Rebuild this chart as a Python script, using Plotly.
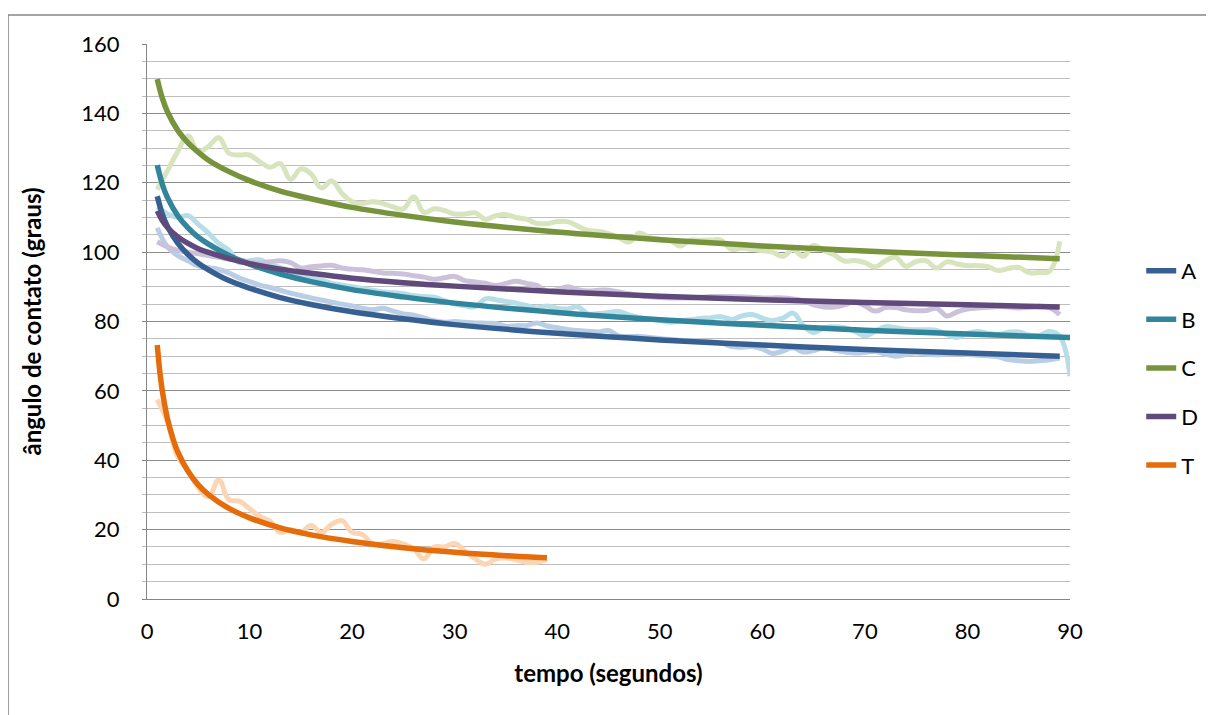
import plotly.graph_objects as go

# ---------------- data ----------------
SERIES = ["A", "B", "C", "D", "T"]

SEC_A = list(range(1, 90))
RAW_A = [107, 101.5, 99, 97.5, 96, 95.5, 95, 94, 92.5, 91.5, 90.5, 89.8, 89, 88.2, 87.5, 86.8, 86.2, 85.6, 85, 84.5,
         83.8, 83.4, 83.8, 83, 82.2, 81.8, 81, 80.2, 79.8, 80, 79.8, 79.6, 79.5, 79.4, 78.6, 78.8, 78.8, 79.6, 78.7, 78.2,
         77.7, 77.4, 77.2, 77, 77.4, 75.8, 75.7, 75.7, 75.4, 75.1, 74.8, 74.6, 74.5, 74.3, 74.1, 73.8, 72.8, 72.6, 72.8, 72.1,
         70.8, 71.5, 72.4, 71.2, 71.6, 72.4, 71.8, 71.3, 70.9, 71.1, 71.4, 70.6, 70, 70.5, 70.9, 70.6, 70.4, 70.7, 70.8, 70.5,
         70.3, 70.1, 69.8, 69, 68.7, 68.5, 68.7, 69, 69.5]

SEC_B = list(range(1, 91))
RAW_B = [113, 111, 110, 110.5, 108, 105.5, 102.5, 100.5, 97, 97.5, 97.8, 96.5, 95.5, 94.5, 93.5, 92.5, 92, 91, 90.5, 90,
         89.5, 89, 88.5, 88.3, 88, 87.5, 87.2, 87, 86, 85, 84.5, 84.3, 86.5, 86.3, 85.8, 85.3, 84.6, 83.9, 84.5, 83.8,
         83.6, 84.2, 82.2, 82.3, 82.6, 82.9, 81.9, 81.2, 80.7, 80.3, 79.8, 80.2, 80.5, 80.9, 81.1, 81.4, 80.6, 81.6, 82, 81,
         80.3, 81, 82.4, 78.8, 76.8, 78.2, 78.5, 78.2, 77.2, 75.9, 77.2, 78.5, 78.2, 77.8, 77.6, 77.6, 77.4, 76.2, 75.4, 76.6,
         77.1, 76.6, 76.3, 76.9, 77, 76.1, 76, 77.1, 75.7, 64.2]

SEC_C = list(range(1, 90))
RAW_C = [118, 123.5, 129, 133.5, 129, 130.5, 133, 128.5, 128, 128, 126, 124.5, 125.5, 121, 124, 122.5, 118.5, 120.5, 117, 114.5,
         114, 114.5, 114, 113, 112.5, 116, 111.5, 112.5, 112, 111, 111, 111.3, 109.5, 110.5, 110.8, 110, 109.5, 108.3, 108.2, 108.8,
         108.8, 107.5, 106.3, 106, 105.3, 104.2, 102.9, 105.5, 104.2, 103.8, 103.3, 101.8, 103.5, 103.4, 103.5, 103.4, 100.8, 101.2, 100.8, 100.4,
         100, 98.8, 100.7, 98.8, 102, 100.5, 99.2, 97.4, 97.6, 97, 95.7, 97.5, 98.5, 95.9, 97.3, 97.5, 95.4, 97.2, 96.6, 96.1,
         96.1, 95.8, 94.7, 95.3, 95.6, 94.1, 94.1, 94.5, 103.1]

SEC_D = list(range(1, 90))
RAW_D = [103, 101.5, 100.5, 100, 99.5, 99, 98.5, 98, 97.8, 97.2, 96.8, 97.2, 97.5, 97, 95.4, 95.8, 96, 96.2, 95.4, 95.1,
         94.9, 94.5, 94, 93.9, 93.7, 93.2, 92.8, 92.2, 92.6, 93, 91.8, 91.4, 91, 90.4, 91, 91.6, 91, 90.4, 88.8, 89.2,
         90, 89.2, 88.8, 89, 89, 88.5, 88, 87.5, 87.1, 86.9, 86.8, 86.8, 86.8, 87, 87.2, 87.2, 87.2, 87.1, 87, 86.8,
         86.8, 86.8, 86.5, 86, 84.8, 84.2, 84.2, 84.8, 85.6, 84.5, 83, 84, 84, 83.4, 83.1, 83.2, 83.8, 81.6, 82.8, 83.6,
         83.9, 84.1, 84.3, 84.2, 83.9, 84.1, 84.4, 84, 82]

SEC_T = list(range(1, 40))
RAW_T = [57.5, 51, 41, 37, 32, 29.5, 34.3, 28.6, 28.2, 26, 23.8, 22.4, 19.2, 20, 19.3, 21.2, 19.2, 21.5, 22.6, 19.2,
         18.6, 16, 16, 16.6, 15.8, 14.5, 11.6, 15, 15, 16, 13.8, 11.6, 10, 11.6, 11.8, 11.3, 10.6, 10.6, 11.4]

# trend curves
TREND_X = [1, 1.5, 2, 3, 4, 5, 6, 8, 10, 13, 16, 20, 25, 30, 40, 50, 60, 70, 80, 89]
TREND_X_B = [1, 1.5, 2, 3, 4, 5, 6, 8, 10, 13, 16, 20, 25, 30, 40, 50, 60, 70, 80, 90]
TREND_X_T = [1, 1.25, 1.5, 2, 2.5, 3, 4, 5, 6, 8, 10, 13, 16, 20, 25, 30, 35, 39]
TREND_A = [116.1, 110.9, 107.4, 102.6, 99.3, 96.8, 94.9, 91.8, 89.6, 86.9, 84.9, 82.8, 80.8, 79.1, 76.6, 74.7, 73.2, 71.9, 70.9, 70.0]
TREND_B = [125.1, 119.5, 115.7, 110.5, 107.0, 104.3, 102.3, 99.0, 96.5, 93.7, 91.5, 89.2, 87.1, 85.3, 82.6, 80.5, 78.9, 77.5, 76.4, 75.4]
TREND_C = [149.9, 144.3, 140.4, 135.1, 131.5, 128.8, 126.5, 123.2, 120.6, 117.6, 115.4, 112.9, 110.6, 108.7, 105.8, 103.6, 101.8, 100.3, 99.1, 98.1]
TREND_D = [111.9, 109.1, 107.1, 104.4, 102.5, 101.0, 99.9, 98.1, 96.7, 95.1, 93.9, 92.5, 91.2, 90.2, 88.6, 87.3, 86.3, 85.5, 84.8, 84.2]
TREND_T = [73.2, 65.5, 59.9, 51.9, 46.5, 42.4, 36.8, 32.9, 30.1, 26.1, 23.4, 20.5, 18.5, 16.6, 14.8, 13.5, 12.5, 11.9]

X_TICKS = [0, 10, 20, 30, 40, 50, 60, 70, 80, 90]
Y_TICKS = [0, 20, 40, 60, 80, 100, 120, 140, 160]

RAW_COLORS = ["#B9CDE5", "#B7DEE8", "#D7E4BD", "#CCC1DA", "#FCD5B5"]
TREND_COLORS = ["#376092", "#31859C", "#77933C", "#604A7B", "#E46C0A"]

FONT = "Lato, 'Open Sans', Arial, sans-serif"

raw = [(SEC_A, RAW_A), (SEC_B, RAW_B), (SEC_C, RAW_C), (SEC_D, RAW_D), (SEC_T, RAW_T)]
trend = [(TREND_X, TREND_A), (TREND_X_B, TREND_B), (TREND_X, TREND_C), (TREND_X, TREND_D), (TREND_X_T, TREND_T)]

fig = go.Figure()
for i, (xs, ys) in enumerate(raw):
    fig.add_trace(go.Scatter(x=xs, y=ys, mode="lines", showlegend=False, hoverinfo="skip",
                             line=dict(color=RAW_COLORS[i], width=5, shape="spline", smoothing=1.2)))
for i, (xs, ys) in enumerate(trend):
    fig.add_trace(go.Scatter(x=xs, y=ys, mode="lines", name=SERIES[i], legendgroup=SERIES[i],
                             line=dict(color=TREND_COLORS[i], width=5.5, shape="spline", smoothing=1.0)))

# outer chart border
fig.add_shape(type="rect", xref="paper", yref="paper",
              x0=(8 - 147) / 924, x1=(1230 - 147) / 924, y0=(599 - 730) / 555, y1=(599 - 15) / 555,
              line=dict(color="#868686", width=1.3), fillcolor="rgba(0,0,0,0)", layer="below")

fig.update_layout(
    width=1206, height=707,
    margin=dict(l=139, r=143, t=36, b=116),
    paper_bgcolor="white", plot_bgcolor="white",
    font=dict(family=FONT, size=22, color="#000000"),
    showlegend=True,
    legend=dict(x=1.076, y=0.629, xanchor="left", yanchor="top",
                traceorder="grouped", tracegroupgap=17,
                font=dict(family=FONT, size=22, color="#000000"),
                bgcolor="rgba(0,0,0,0)", itemwidth=30),
    xaxis=dict(range=[0, 90], tickvals=X_TICKS, ticktext=[str(v) for v in X_TICKS],
               showgrid=False, zeroline=False, showline=True, linecolor="#868686", linewidth=1.3,
               ticks="", ticklabelstandoff=12,
               title=dict(text="<b>tempo (segundos)</b>", standoff=22,
                          font=dict(family=FONT, size=24, color="#000000"))),
    yaxis=dict(range=[0, 160], tickvals=Y_TICKS, ticktext=[str(v) for v in Y_TICKS],
               showgrid=True, gridcolor="#8C8C8C", gridwidth=1.3,
               zeroline=False, showline=True, linecolor="#868686", linewidth=1.3,
               ticks="outside", ticklen=4, tickcolor="#868686", ticklabelstandoff=18,
               minor=dict(dtick=5, showgrid=True, gridcolor="#BEBEBE", gridwidth=1.3,
                          ticks="outside", ticklen=4, tickcolor="#BEBEBE"),
               title=dict(text="<b>ângulo de contato (graus)</b>", standoff=32,
                          font=dict(family=FONT, size=24, color="#000000"))),
)

fig.write_html("out.html")
